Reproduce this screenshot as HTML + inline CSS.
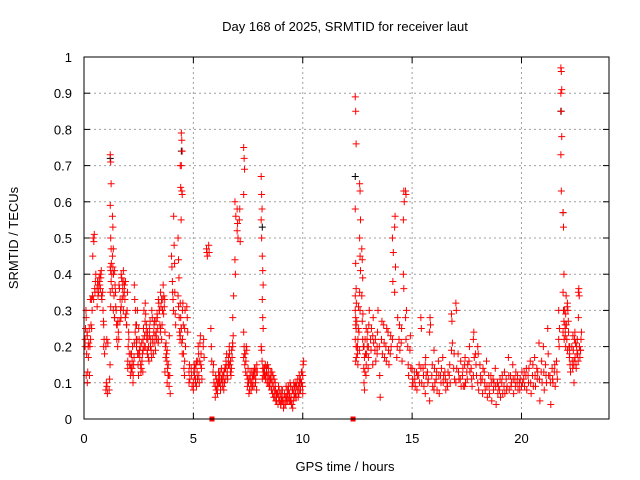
<!DOCTYPE html>
<html><head><meta charset="utf-8"><style>
html,body{margin:0;padding:0;background:#fff;width:640px;height:480px;overflow:hidden}
svg{display:block;font-family:"Liberation Sans",sans-serif}
</style></head><body>
<svg id="chart" width="640" height="480">
<text x="345" y="31" text-anchor="middle" font-size="13">Day 168 of 2025, SRMTID for receiver laut</text>
<text x="345" y="471" text-anchor="middle" font-size="13">GPS time / hours</text>
<text transform="translate(18,238) rotate(-90)" text-anchor="middle" font-size="13">SRMTID / TECUs</text>
<g id="grid"></g>
<g id="ticks"></g>
<g id="marks"></g>
<rect x="84" y="57" width="525" height="362" fill="none" stroke="#000" stroke-width="1"/>
</svg>
<script>
const xTicks=[0,5,10,15,20];
const yTicks=[0,0.1,0.2,0.3,0.4,0.5,0.6,0.7,0.8,0.9,1];
const yTickLabels=["0","0.1","0.2","0.3","0.4","0.5","0.6","0.7","0.8","0.9","1"];
const redHours=[0.05,0.1,0.15,0.2,0.25,0.3,0.35,0.4,0.45,0.5,0.6,0.7,0.8,0.9,1.0,1.05,1.2,1.2,1.3,1.4,1.5,1.6,1.7,1.8,1.9,2.0,2.1,2.2,2.3,2.4,2.5,2.6,2.7,2.8,2.9,3.0,3.1,3.2,3.3,3.4,3.5,3.6,3.7,3.8,3.9,4.0,4.1,4.4,4.45,4.3,4.4,4.5,4.6,4.8,4.9,5.0,5.2,5.3,5.6,5.7,5.8,5.9,6.0,6.2,6.3,6.4,6.5,6.6,6.8,6.9,7.0,7.1,7.3,7.3,7.4,7.5,7.6,7.7,7.8,7.9,8.1,8.15,8.1,8.2,8.3,8.5,8.7,8.8,9.0,9.1,9.2,9.4,9.5,9.7,9.9,10.0,
12.4,12.4,12.5,12.6,12.7,12.8,12.9,13.0,13.2,13.4,13.5,13.6,13.8,14.0,14.1,14.2,14.3,14.5,14.6,14.7,14.8,15.0,15.2,15.4,15.6,15.8,16.0,16.2,16.4,16.6,16.8,17.0,17.2,17.4,17.6,17.8,18.0,18.2,18.4,18.6,18.8,19.0,19.2,19.4,19.6,19.8,20.0,20.2,20.4,20.6,20.8,21.0,21.2,21.3,21.5,21.7,21.8,21.9,22.0,22.1,22.2,22.4,22.5,22.6,22.7,
0.65,0.75,0.85,1.15,1.25,1.35,1.45,1.55,1.65,1.75,1.85,1.95,2.05,2.15,2.25,2.35,2.45,2.55,2.65,2.75,2.85,2.95,3.05,3.15,3.25,3.35,3.45,3.55,3.65,3.75,3.85,4.05,4.15,4.35,4.45,4.55,4.7,5.05,5.1,5.15,5.25,5.35,5.45,6.05,6.1,6.15,6.25,6.35,6.45,6.55,6.65,6.7,6.75,7.35,7.45,7.55,7.65,7.75,7.85,8.15,8.25,8.35,8.4,8.45,8.55,8.6,8.65,8.75,8.85,8.9,8.95,9.05,9.15,9.25,9.3,9.35,9.45,9.55,9.6,9.65,9.75,9.8,9.85,9.95,
12.45,12.55,12.75,12.85,12.95,13.1,13.3,13.7,13.9,14.4,14.9,15.1,15.3,15.5,15.7,15.9,16.1,16.3,16.5,16.7,16.9,17.1,17.3,17.5,17.7,17.9,18.1,18.3,18.5,18.7,18.9,19.1,19.3,19.5,19.7,19.9,20.1,20.3,20.5,20.7,20.9,21.1,21.4,21.6,21.95,22.05,22.15,22.3,22.35,22.45,22.55,22.65];
const redValues=[[0.2,0.25,0.3,0.22],[0.12,0.18,0.24,0.28],[0.1,0.13,0.2,0.23],[0.17,0.21,0.25],[0.12,0.2,0.33],[0.22,0.26,0.33],[0.25,0.3,0.34],[0.45,0.5,0.33],[0.49,0.51,0.36],[0.35,0.38,0.4],[0.36,0.38,0.34,0.31],[0.38,0.37,0.4],[0.34,0.33],[0.2,0.22,0.18,0.26],[0.08,0.1,0.22,0.2],[0.09,0.07,0.21],[0.73,0.71,0.65,0.59,0.5,0.47],[0.42,0.41,0.38,0.35,0.31],[0.56,0.53,0.47,0.45,0.42,0.3],[0.41,0.37,0.35,0.28],[0.22,0.26,0.2],[0.37,0.36,0.27],[0.4,0.39,0.33,0.31],[0.41,0.38,0.35,0.3],[0.38,0.29,0.26],[0.16,0.2,0.24,0.14],[0.15,0.12,0.18],[0.16,0.2,0.1,0.14],[0.37,0.33,0.24,0.21],[0.2,0.22,0.3,0.26],[0.18,0.22,0.19,0.25],[0.13,0.14,0.21],[0.22,0.25,0.3,0.19],[0.32,0.29,0.24,0.2],[0.24,0.22,0.17,0.18],[0.25,0.27,0.2],[0.3,0.28,0.22],[0.26,0.27,0.21],[0.24,0.22,0.29],[0.33,0.32,0.3,0.22],[0.35,0.31,0.33,0.25],[0.33,0.37,0.29],[0.24,0.2,0.17,0.13],[0.19,0.14,0.12,0.1],[0.23,0.12,0.07],[0.45,0.42,0.38],[0.56,0.48,0.43],[0.7,0.64,0.55],[0.79,0.77,0.74,0.7,0.63,0.62],[0.5,0.44,0.39,0.34,0.31],[0.32,0.28,0.25,0.23],[0.3,0.32,0.26,0.22],[0.25,0.3,0.2,0.16],[0.13,0.15,0.11,0.1],[0.14,0.12,0.09],[0.1,0.13,0.15,0.08],[0.16,0.2,0.18],[0.21,0.23,0.15],[0.47,0.46,0.45],[0.48,0.46],[0.25,0.2,0.16],[0.13,0.15,0.1],[0.09,0.12,0.08,0.06],[0.1,0.13,0.08],[0.11,0.12,0.09],[0.13,0.1,0.14],[0.15,0.18,0.12],[0.17,0.15,0.2],[0.2,0.23,0.34,0.28],[0.44,0.4,0.56,0.6],[0.58,0.54,0.5,0.52],[0.55,0.58,0.49],[0.75,0.72,0.69,0.62],[0.24,0.2,0.18,0.17],[0.16,0.2,0.19],[0.14,0.1,0.07],[0.12,0.1,0.08],[0.09,0.11,0.13],[0.12,0.14,0.1],[0.15,0.13],[0.67,0.62,0.58,0.55,0.5],[0.45,0.41,0.37,0.33,0.28,0.25],[0.2,0.19,0.16],[0.13,0.14,0.12],[0.11,0.12,0.14],[0.09,0.11,0.13],[0.08,0.06,0.1],[0.05,0.07],[0.04,0.06,0.08],[0.05,0.03],[0.06,0.04,0.09],[0.07,0.1,0.05],[0.04,0.08,0.03],[0.06,0.09],[0.08,0.1,0.13],[0.12,0.15,0.16,0.07],
[0.89,0.85,0.76,0.58,0.43,0.36,0.34,0.26,0.2],[0.3,0.28,0.25,0.22,0.16],[0.18,0.22,0.25,0.2,0.15],[0.65,0.63,0.55,0.5,0.45,0.41,0.35,0.3],[0.47,0.44,0.39,0.34,0.27,0.22],[0.2,0.17,0.13,0.1,0.08],[0.15,0.18,0.22,0.25],[0.2,0.26,0.3,0.17],[0.23,0.28,0.21,0.15],[0.18,0.24,0.3,0.2],[0.2,0.12,0.06],[0.22,0.27,0.18],[0.2,0.16,0.25],[0.18,0.23,0.2],[0.22,0.38,0.46,0.5],[0.53,0.56,0.42,0.35],[0.17,0.2,0.28],[0.21,0.25,0.16],[0.55,0.63,0.6,0.4,0.36],[0.63,0.62,0.3,0.28,0.22],[0.2,0.15,0.12],[0.14,0.11,0.1,0.09],[0.13,0.08,0.12],[0.28,0.25,0.1,0.14],[0.15,0.17,0.12,0.07],[0.24,0.28,0.26,0.05],[0.19,0.14,0.1,0.08],[0.16,0.12,0.07],[0.17,0.1,0.12],[0.1,0.09,0.13],[0.29,0.27,0.21,0.19],[0.32,0.3,0.14,0.1],[0.11,0.16,0.09],[0.15,0.17,0.1,0.09],[0.16,0.2,0.13],[0.22,0.24,0.17,0.12],[0.2,0.18,0.08,0.1],[0.11,0.07,0.14],[0.16,0.09,0.06],[0.12,0.1,0.05],[0.14,0.09,0.04],[0.08,0.11,0.06],[0.09,0.13,0.07],[0.17,0.12,0.08],[0.15,0.11,0.07],[0.1,0.12,0.08],[0.09,0.13,0.1],[0.12,0.14,0.08],[0.16,0.1,0.07],[0.17,0.12,0.09],[0.21,0.11,0.05],[0.2,0.13,0.08],[0.25,0.18,0.12],[0.12,0.1,0.04],[0.13,0.15,0.09],[0.22,0.2,0.25,0.3],[0.97,0.96,0.91,0.9,0.85,0.78,0.73,0.63],[0.57,0.53,0.4,0.35,0.3,0.27,0.24],[0.25,0.29,0.34,0.23,0.2],[0.32,0.3,0.27,0.19],[0.18,0.15,0.13,0.2],[0.16,0.22,0.24,0.1],[0.14,0.2,0.18],[0.35,0.36,0.34,0.28],[0.19,0.22,0.24],
[0.37,0.35,0.39],[0.36,0.39,0.41],[0.35,0.3,0.27],[0.08,0.11,0.15],[0.43,0.4,0.36],[0.4,0.34,0.28],[0.31,0.3,0.26],[0.27,0.24,0.22],[0.33,0.3,0.28],[0.38,0.36,0.34],[0.37,0.33,0.28],[0.26,0.3,0.35],[0.22,0.18,0.15],[0.14,0.18,0.13],[0.12,0.15,0.17],[0.3,0.26,0.22],[0.18,0.15,0.12],[0.17,0.2,0.15],[0.16,0.18,0.13],[0.2,0.23,0.27],[0.26,0.22,0.19],[0.2,0.16,0.23],[0.22,0.19,0.17],[0.21,0.18,0.24],[0.23,0.19,0.27],[0.28,0.25,0.21],[0.3,0.26,0.24],[0.22,0.26,0.3],[0.34,0.31,0.33],[0.21,0.18,0.16],[0.15,0.12,0.09],[0.35,0.33,0.3],[0.35,0.29,0.26],[0.28,0.24,0.22],[0.25,0.21,0.18],[0.18,0.14,0.12],[0.31,0.28,0.24],[0.12,0.14,0.1],[0.11,0.15,0.09],[0.16,0.13,0.11],[0.12,0.1,0.16],[0.18,0.14,0.11],[0.2,0.22,0.17],[0.11,0.08,0.1],[0.07,0.09,0.11],[0.13,0.1,0.12],[0.09,0.11,0.14],[0.1,0.12,0.08],[0.11,0.14,0.16],[0.13,0.11,0.15],[0.18,0.15,0.13],[0.16,0.12,0.14],[0.19,0.17,0.21],[0.15,0.18,0.13],[0.12,0.09,0.11],[0.11,0.08,0.13],[0.1,0.13,0.12],[0.12,0.09,0.14],[0.11,0.13,0.08],[0.11,0.14,0.12],[0.14,0.12,0.15],[0.13,0.1,0.15],[0.12,0.1,0.14],[0.12,0.09,0.11],[0.11,0.08,0.13],[0.1,0.07,0.12],[0.09,0.06,0.11],[0.08,0.05,0.07],[0.07,0.04,0.09],[0.06,0.08,0.05],[0.05,0.07,0.04],[0.05,0.08,0.06],[0.04,0.07,0.06],[0.06,0.05,0.08],[0.07,0.05,0.09],[0.08,0.06,0.05],[0.09,0.06,0.04],[0.08,0.05,0.1],[0.07,0.09,0.06],[0.09,0.07,0.1],[0.08,0.11,0.06],[0.09,0.07,0.12],[0.1,0.08,0.11],[0.1,0.13,0.09],
[0.32,0.27,0.2,0.17],[0.31,0.24,0.19],[0.29,0.2,0.14],[0.22,0.18,0.12],[0.2,0.24,0.14],[0.22,0.19,0.25],[0.19,0.22,0.16],[0.26,0.21,0.17],[0.24,0.19,0.15],[0.22,0.26,0.19],[0.19,0.23,0.14],[0.13,0.11,0.09],[0.12,0.15,0.1],[0.14,0.12,0.09],[0.13,0.1,0.11],[0.12,0.15,0.09],[0.11,0.13,0.08],[0.12,0.1,0.14],[0.13,0.11,0.08],[0.12,0.15,0.1],[0.14,0.18,0.11],[0.18,0.13,0.11],[0.12,0.14,0.09],[0.13,0.11,0.15],[0.14,0.11,0.09],[0.18,0.15,0.12],[0.15,0.12,0.1],[0.13,0.1,0.08],[0.12,0.09,0.07],[0.11,0.08,0.1],[0.1,0.07,0.09],[0.1,0.12,0.07],[0.11,0.08,0.09],[0.12,0.09,0.1],[0.11,0.09,0.13],[0.1,0.08,0.11],[0.11,0.13,0.09],[0.12,0.1,0.14],[0.12,0.15,0.09],[0.14,0.11,0.13],[0.13,0.16,0.1],[0.15,0.12,0.1],[0.14,0.11,0.1],[0.16,0.13,0.11],[0.22,0.3,0.26],[0.26,0.22,0.31],[0.24,0.2,0.17],[0.2,0.16,0.14],[0.23,0.19,0.15],[0.17,0.21,0.15],[0.22,0.18,0.16],[0.2,0.17,0.19]];
const blackHours=[1.2,4.45,8.15,12.4,21.8,21.9];
const blackValues=[[0.72],[0.74],[0.53],[0.67],[0.85],[0.57]];
const flagHours=[5.85,12.3];

const X0=84,X1=609,Y0=419,Y1=57,XMAX=24;
const xs=h=>X0+(X1-X0)*h/XMAX;
const ys=v=>Y0-(Y0-Y1)*v;
const NS='http://www.w3.org/2000/svg';
const grid=document.getElementById('grid'),ticks=document.getElementById('ticks'),marks=document.getElementById('marks');
function mk(tag,attrs,parent){const e=document.createElementNS(NS,tag);for(const k in attrs)e.setAttribute(k,attrs[k]);parent.appendChild(e);return e;}
yTicks.forEach((v,i)=>{
  const y=ys(v);
  if(i>0&&i<yTicks.length-1){const g=mk('line',{x1:X0,x2:X1,y1:y,y2:y,stroke:'#a0a0a0','stroke-dasharray':'2,3'},grid);
  
  }
  const t1=mk('line',{x1:X0,x2:X0+6,y1:y,y2:y,stroke:'#000'},ticks);
  
  
  const t2=mk('line',{x1:X1-6,x2:X1,y1:y,y2:y,stroke:'#000'},ticks);
  
  
  const l=mk('text',{x:X0-12,y:y+5,'text-anchor':'end','font-size':'13'},ticks);
  l.textContent=yTickLabels[i];
  
  
});
xTicks.forEach(h=>{
  const x=xs(h);
  if(h>0){const g=mk('line',{x1:x,x2:x,y1:Y0,y2:Y1,stroke:'#a0a0a0','stroke-dasharray':'2,3'},grid);
  
  }
  const t1=mk('line',{x1:x,x2:x,y1:Y0,y2:Y0-6,stroke:'#000'},ticks);
  
  
  const t2=mk('line',{x1:x,x2:x,y1:Y1,y2:Y1+6,stroke:'#000'},ticks);
  
  
  const l=mk('text',{x:x,y:Y0+24,'text-anchor':'middle','font-size':'13'},ticks);
  l.textContent=String(h);
  
  
});
function plus(h,v,color,name){
  const x=xs(h),y=ys(v);
  const p=mk('path',{d:`M${x-3.5},${y}H${x+3.5}M${x},${y-3.5}V${y+3.5}`,stroke:color,'stroke-width':'1',fill:'none'},marks);
  
  
}
blackHours.forEach((h,i)=>blackValues[i].forEach(v=>plus(h,v,'#000','black-point')));
redHours.forEach((h,i)=>redValues[i].forEach((v,j)=>plus(h+0.02*(j%3),v,'#f00','red-point')));
flagHours.forEach(h=>{
  const r=mk('rect',{x:xs(h)-2.5,y:Y0-2.5,width:5,height:5,fill:'#f00'},marks);
  
  
});
</script>
</body></html>
